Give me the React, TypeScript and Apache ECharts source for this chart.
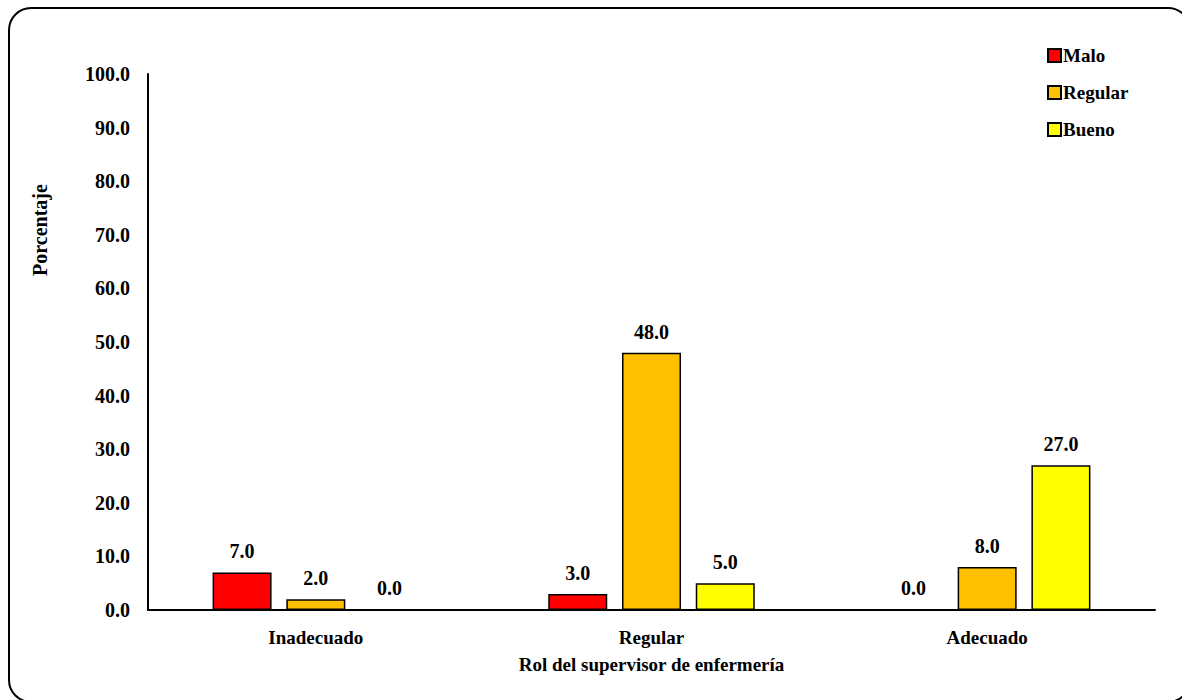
import React, { useEffect, useRef } from "react";
import * as echarts from "echarts";

const categories = ["Inadecuado", "Regular", "Adecuado"];
const seriesNames = ["Malo", "Regular", "Bueno"];
const malo = [7.0, 3.0, 0.0];
const regular = [2.0, 48.0, 8.0];
const bueno = [0.0, 5.0, 27.0];
const colors = ["#FF0000", "#FFC000", "#FFFF00"];
const yTicks = { min: 0, max: 100, interval: 10 };

const FONT = "'Liberation Serif', 'Times New Roman', serif";

export default function App() {
  const ref = useRef<HTMLDivElement>(null);
  useEffect(() => {
    document.body.style.margin = "0";
    const chart = echarts.init(ref.current!, undefined, { renderer: "svg" });
    const values = [malo, regular, bueno];
    chart.setOption({
      animation: false,
      backgroundColor: "#fff",
      grid: { left: 148, right: 27, top: 74, bottom: 90 },
      legend: {
        orient: "vertical",
        left: 1042,
        top: 41,
        itemWidth: 13,
        itemHeight: 13,
        itemGap: 18,
        icon: "rect",
        textStyle: { fontFamily: FONT, fontWeight: "bold", fontSize: 19, color: "#000", padding: [0, 0, 0, -3] },
        data: seriesNames,
      },
      xAxis: {
        type: "category",
        data: categories,
        name: "Rol del supervisor de enfermería",
        nameLocation: "middle",
        nameGap: 45,
        nameTextStyle: { fontFamily: FONT, fontWeight: "bold", fontSize: 19, color: "#000" },
        axisLine: { lineStyle: { color: "#000", width: 2 } },
        axisTick: { show: false },
        axisLabel: { fontFamily: FONT, fontWeight: "bold", fontSize: 19, color: "#000", margin: 18 },
      },
      yAxis: {
        type: "value",
        min: yTicks.min,
        max: yTicks.max,
        interval: yTicks.interval,
        axisLine: { show: true, lineStyle: { color: "#000", width: 2 } },
        axisTick: { show: false },
        splitLine: { show: false },
        axisLabel: {
          fontFamily: FONT,
          fontWeight: "bold",
          fontSize: 20,
          color: "#000",
          margin: 18,
          formatter: (v: number) => v.toFixed(1),
        },
      },
      series: seriesNames.map((name, i) => ({
        name,
        type: "bar",
        data: values[i],
        barWidth: 59,
        barGap: "25%",
        itemStyle: { color: colors[i], borderColor: "#000", borderWidth: 1.5 },
        label: {
          show: true,
          position: "top",
          distance: 11,
          fontFamily: FONT,
          fontWeight: "bold",
          fontSize: 20,
          color: "#000",
          formatter: (p: any) => Number(p.value).toFixed(1),
        },
      })),
      graphic: [
        {
          type: "rect",
          shape: { x: 9, y: 8, width: 1181, height: 694, r: 22 },
          style: { fill: "none", stroke: "#000", lineWidth: 2 },
          silent: true,
        },
        {
          type: "text",
          x: 40,
          y: 230,
          rotation: Math.PI / 2,
          style: {
            text: "Porcentaje",
            fontFamily: FONT,
            fontWeight: "bold",
            fontSize: 20,
            fill: "#000",
            textAlign: "center",
            textVerticalAlign: "middle",
          },
        },
      ],
    });
    return () => chart.dispose();
  }, []);
  return <div ref={ref} style={{ width: 1182, height: 700 }} />;
}
